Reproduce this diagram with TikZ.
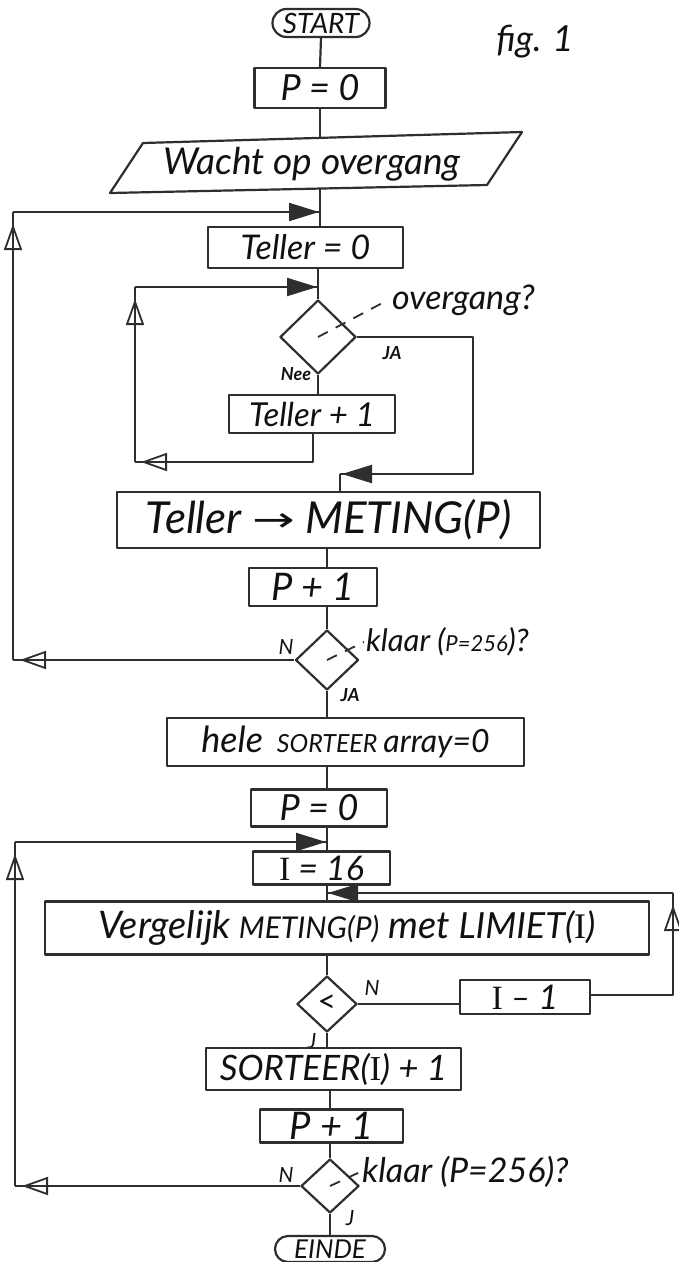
\documentclass[tikz,border=0pt]{standalone}
\usepackage{fontspec}
\usepackage{graphicx}
\setmainfont{Lato}
\newfontfamily\djv{DejaVu Sans}
\newfontfamily\serI{Liberation Serif}
\usetikzlibrary{arrows.meta,shapes.geometric,shapes.misc,decorations.markings}
\definecolor{ink}{HTML}{2E2E2E}
\definecolor{txt}{HTML}{111111}
\newcommand\myfs[1]{\fontsize{#1}{#1}\selectfont}
\newcommand\II{{\serI\upshape I}}
\begin{document}
\begin{tikzpicture}[x=1pt,y=-1pt,
  ln/.style={line width=2.2pt, draw=ink, line join=round},
  box/.style={rectangle, ln, inner sep=0pt, text=txt},
  dia/.style={diamond, ln, inner sep=0pt, text=txt},
  term/.style={rounded rectangle, ln, inner sep=0pt, text=txt},
  lab/.style={inner sep=0pt, text=txt},
  small/.style={inner sep=0pt, text=txt, font=\bfseries\itshape\myfs{18}},
  leader/.style={line width=1.8pt, draw=ink, dash pattern=on 11pt off 9pt},
  tipo/.style={postaction={decorate, decoration={markings, mark=at position -#1 with {\arrow[line width=1.8pt]{Triangle[open,length=26pt,width=18pt]}}}}},
  tipf/.style={postaction={decorate, decoration={markings, mark=at position -#1 with {\arrow{Triangle[length=30pt,width=18pt]}}}}},
]
\fill[white] (0,0) rectangle (679,1262);
\useasboundingbox (0,0) rectangle (679,1262);

% ---------- upper part ----------
\node[term, minimum width=97pt, minimum height=28pt, font=\itshape\myfs{28}] (start) at (321,23) {START};
\node[lab, font=\itshape\myfs{36}] (fig) at (535,42) {fig. 1};
\node[box, minimum width=131pt, minimum height=40pt, font=\itshape\myfs{36}] (p0a) at (320,88) {P = 0};
\node[lab, font=\itshape\myfs{37}] (wacht) at (312,164) {Wacht op overgang};
\draw[ln] (110,193) -- (143,143) -- (522,132) -- (487,185) -- cycle;
\coordinate (wtop) at (320,138);
\coordinate (wbot) at (320,188.5);
\node[box, minimum width=195pt, minimum height=41pt, font=\itshape\myfs{34}] (t0) at (305.5,247.5) {Teller = 0};
\node[dia, minimum width=76pt, minimum height=74pt] (d1) at (318,337) {};
\node[lab, anchor=west, font=\itshape\myfs{34}] (q1) at (392,300) {overgang?};
\node[small] (ya1) at (392,353) {JA};
\node[small] (nee) at (296,374) {Nee};
\node[box, minimum width=166pt, minimum height=38pt, font=\itshape\myfs{33}] (t1) at (312,414) {Teller + 1};
\node[box, minimum width=423pt, minimum height=56pt, font=\itshape\myfs{44}] (met) at (328.5,520) {Teller \raisebox{2pt}{\scalebox{1.5}[1]{\djv\upshape\myfs{34}→}} METING(P)};
\node[box, minimum width=128pt, minimum height=38pt, font=\itshape\myfs{38}] (pp1a) at (313,587) {P + 1};
\node[dia, minimum width=63pt, minimum height=60pt] (d2) at (327,660) {};
\node[lab, anchor=west, font=\itshape\myfs{31}] (q2) at (366,642) {klaar ({\myfs{22}P=256})?};
\node[lab, font=\itshape\myfs{21}] (n2) at (286,647) {N};
\node[small] (ja2) at (350,695) {JA};

% ---------- lower part ----------
\node[box, minimum width=357pt, minimum height=48pt, font=\itshape] (hele) at (345.5,742) {{\myfs{36}hele}\hspace{14pt}{\myfs{25}SORTEER}\hspace{6pt}{\myfs{32}array=0}};
\node[box, minimum width=136pt, minimum height=37pt, font=\itshape\myfs{36}] (p0b) at (319,808) {P = 0};
\node[box, minimum width=137pt, minimum height=33pt, font=\itshape\myfs{34}] (i16) at (321.5,868) {\II\ = 16};
\node[box, minimum width=604pt, minimum height=53pt, font=\itshape\myfs{38}] (verg) at (347,928) {Vergelijk\hspace{8pt}{\myfs{30}METING(P)} met {\myfs{36}LIMIET(\II)}};
\node[dia, minimum width=60pt, minimum height=56pt, font=\myfs{32}] (d3) at (327,1004) {<};
\node[lab, font=\itshape\myfs{21}] (n3) at (372,988) {N};
\node[lab, font=\itshape\myfs{21}] (j3) at (312,1041) {J};
\node[box, minimum width=130pt, minimum height=34pt, font=\itshape\myfs{34}] (im1) at (525,997) {\II\ -- 1};
\node[box, minimum width=255pt, minimum height=42pt, font=\itshape\myfs{35}] (sort) at (333.5,1069) {SORTEER(\II) + 1};
\node[box, minimum width=143pt, minimum height=33pt, font=\itshape\myfs{38}] (pp1b) at (331.5,1126) {P + 1};
\node[dia, minimum width=58pt, minimum height=54pt] (d4) at (330,1186) {};
\node[lab, anchor=west, font=\itshape\myfs{34}] (q4) at (362,1172) {klaar (P=256)?};
\node[lab, font=\itshape\myfs{21}] (n4) at (286,1175) {N};
\node[lab, font=\itshape\myfs{21}] (j4) at (350,1218) {J};
\node[term, minimum width=110pt, minimum height=26pt, font=\itshape\myfs{26}] (einde) at (330,1249) {EINDE};

% ---------- leaders ----------
\draw[leader] (d1.center) -- ([xshift=-4pt]q1.west);
\draw[leader] (d2.center) -- ([xshift=-2pt]q2.west);
\draw[leader] (d4.center) -- ([xshift=-2pt]q4.west);

% ---------- main line, upper ----------
\draw[ln] (start.south) -- (p0a.north);
\draw[ln] (p0a.south) -- (wtop);
\draw[ln] (wbot) -- (wbot |- t0.north);
\coordinate (j1) at (320,212);
\draw[ln] (t0.south -| d1.north) -- (d1.north);
\coordinate (j2) at (318,287);
\draw[ln] (d1.south) -- (d1.south |- t1.north);

% inner loop (Nee)
\coordinate (c1) at (313,462);
\coordinate (c2) at (135,462);
\coordinate (c3) at (135,287);
\draw[ln, tipo=6pt] (t1.south -| c1) -- (c1) -- (c2);
\draw[ln, tipo=12pt] (c2) -- (c3);
\draw[ln, tipf=1pt] (c3) -- (j2);

% JA branch
\coordinate (r1) at (473,337);
\coordinate (r2) at (473,474);
\coordinate (r3) at (340,474);
\draw[ln, tipf=2pt] (d1.east) -- (r1) -- (r2) -- (r3);
\draw[ln] (r3) -- (r3 |- met.north);

\draw[ln] (met.south -| d2.north) -- (pp1a.north -| d2.north);
\draw[ln] (pp1a.south -| d2.north) -- (d2.north);

% outer loop 1
\coordinate (l1) at (13,660);
\coordinate (l2) at (13,212);
\draw[ln, tipo=7pt] (d2.west) -- (l1);
\draw[ln, tipo=12pt] (l1) -- (l2);
\draw[ln, tipf=1pt] (l2) -- (j1);

% ---------- main line, lower ----------
\draw[ln] (d2.south) -- (d2.south |- hele.north);
\draw[ln] (hele.south -| d2.south) -- (p0b.north -| d2.south);
\draw[ln] (p0b.south -| d2.south) -- (i16.north -| d2.south);
\coordinate (j3) at (327,842);
\draw[ln] (i16.south -| d3.north) -- (verg.north -| d3.north);
\coordinate (j4) at (327,893);
\draw[ln] (verg.south -| d3.north) -- (d3.north);
\draw[ln] (d3.east) -- (d3.east -| im1.west);
\coordinate (k1) at (673,995);
\coordinate (k2) at (673,893);
\draw[ln, tipo=12pt] (im1.east |- k1) -- (k1) -- (k2);
\draw[ln, tipf=1pt] (k2) -- (j4);
\draw[ln] (d3.south) -- (d3.south |- sort.north);
\draw[ln] (sort.south -| d4.north) -- (pp1b.north -| d4.north);
\draw[ln] (pp1b.south -| d4.north) -- (d4.north);
\draw[ln] (d4.south) -- (d4.south |- einde.north);

% outer loop 2
\coordinate (m1) at (15,1186);
\coordinate (m2) at (15,842);
\draw[ln, tipo=7pt] (d4.west) -- (m1);
\draw[ln, tipo=12pt] (m1) -- (m2);
\draw[ln, tipf=1pt] (m2) -- (j3);
\end{tikzpicture}
\end{document}
